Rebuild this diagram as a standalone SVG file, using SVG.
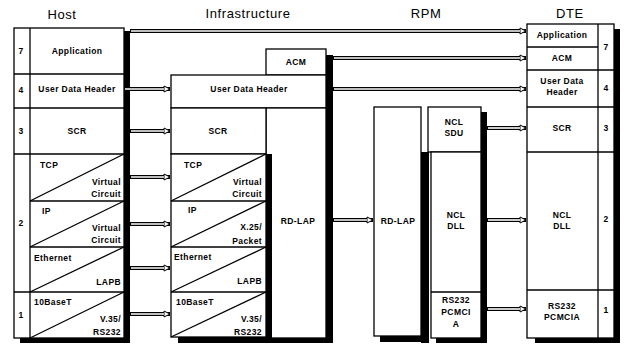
<svg xmlns="http://www.w3.org/2000/svg" width="626" height="345" viewBox="0 0 626 345">
<style>
.bx{fill:#fff;stroke:#000;stroke-width:1.3}
.ln{stroke:#000;stroke-width:1.3;fill:none}
.sh{fill:#000}
.t{font-family:"Liberation Sans",Arial,sans-serif;font-weight:bold;font-size:8.5px;letter-spacing:0.4px;fill:#000}
.m{text-anchor:middle}
.e{text-anchor:end}
.ti{font-family:"Liberation Sans",Arial,sans-serif;font-size:13px;letter-spacing:0.6px;text-anchor:middle;fill:#000}
.co line{stroke:#000;stroke-width:4;fill:none;marker-end:url(#ah)}
.ci line{stroke:#fff;stroke-width:1.6;fill:none}
</style>
<defs>
<marker id="ah" markerWidth="9" markerHeight="9" refX="7" refY="4" orient="auto" markerUnits="userSpaceOnUse">
<path d="M1,1 L7,4 L1,7 Z" fill="#fff" stroke="#000" stroke-width="1"/>
</marker>
</defs>
<rect width="626" height="345" fill="#fff"/>

<g id="titles">
<text class="ti" x="62" y="19">Host</text>
<text class="ti" x="248" y="18">Infrastructure</text>
<text class="ti" x="426" y="18">RPM</text>
<text class="ti" x="570" y="18">DTE</text>
</g>

<g id="host">
<rect class="sh" x="124" y="31" width="6" height="312"/>
<rect class="sh" x="20" y="337" width="110" height="6"/>
<rect class="bx" x="14" y="28" width="110" height="310"/>
<line class="ln" x1="30" y1="28" x2="30" y2="338"/>
<line class="ln" x1="14" y1="74" x2="124" y2="74"/>
<line class="ln" x1="14" y1="108" x2="124" y2="108"/>
<line class="ln" x1="14" y1="154" x2="124" y2="154"/>
<line class="ln" x1="30" y1="201" x2="124" y2="201"/>
<line class="ln" x1="30" y1="247" x2="124" y2="247"/>
<line class="ln" x1="14" y1="292" x2="124" y2="292"/>
<line class="ln" x1="30" y1="201" x2="124" y2="154"/>
<line class="ln" x1="30" y1="247" x2="124" y2="201"/>
<line class="ln" x1="30" y1="292" x2="124" y2="247"/>
<line class="ln" x1="30" y1="338" x2="124" y2="292"/>
<text class="t m" x="21" y="54">7</text>
<text class="t m" x="77" y="54">Application</text>
<text class="t m" x="21" y="93">4</text>
<text class="t m" x="77" y="92">User Data Header</text>
<text class="t m" x="21" y="134">3</text>
<text class="t m" x="77" y="134">SCR</text>
<text class="t" x="40" y="168">TCP</text>
<text class="t e" x="121" y="185">Virtual</text>
<text class="t e" x="121" y="197">Circuit</text>
<text class="t m" x="21" y="226">2</text>
<text class="t" x="42" y="214">IP</text>
<text class="t e" x="121" y="231">Virtual</text>
<text class="t e" x="121" y="243">Circuit</text>
<text class="t" x="34" y="261">Ethernet</text>
<text class="t e" x="121" y="285">LAPB</text>
<text class="t m" x="21" y="318">1</text>
<text class="t" x="34" y="305">10BaseT</text>
<text class="t e" x="121" y="322">V.35/</text>
<text class="t e" x="121" y="335">RS232</text>
</g>

<g id="infrastructure">
<rect class="sh" x="326" y="55" width="7" height="288"/>
<rect class="sh" x="272" y="338" width="61" height="5"/>
<rect class="bx" x="266" y="49" width="60" height="26"/>
<rect class="bx" x="171" y="75" width="155" height="33"/>
<rect class="bx" x="266" y="108" width="60" height="230"/>
<rect class="bx" x="171" y="108" width="95" height="46"/>
<rect class="sh" x="266" y="154" width="6" height="189"/>
<rect class="sh" x="178" y="337" width="94" height="6"/>
<rect class="bx" x="171" y="154" width="95" height="183"/>
<line class="ln" x1="171" y1="201" x2="266" y2="201"/>
<line class="ln" x1="171" y1="247" x2="266" y2="247"/>
<line class="ln" x1="171" y1="292" x2="266" y2="292"/>
<line class="ln" x1="171" y1="201" x2="266" y2="154"/>
<line class="ln" x1="171" y1="247" x2="266" y2="201"/>
<line class="ln" x1="171" y1="292" x2="266" y2="247"/>
<line class="ln" x1="171" y1="337" x2="266" y2="292"/>
<text class="t m" x="296" y="65">ACM</text>
<text class="t m" x="249" y="92">User Data Header</text>
<text class="t m" x="218" y="134">SCR</text>
<text class="t m" x="298" y="224">RD-LAP</text>
<text class="t" x="184" y="168">TCP</text>
<text class="t e" x="262" y="185">Virtual</text>
<text class="t e" x="262" y="197">Circuit</text>
<text class="t" x="188" y="213">IP</text>
<text class="t e" x="262" y="230">X.25/</text>
<text class="t e" x="262" y="244">Packet</text>
<text class="t" x="174" y="260">Ethernet</text>
<text class="t e" x="262" y="284">LAPB</text>
<text class="t" x="176" y="305">10BaseT</text>
<text class="t e" x="262" y="322">V.35/</text>
<text class="t e" x="262" y="335">RS232</text>
</g>

<g id="rpm">
<rect class="sh" x="380" y="336" width="49" height="6"/>
<rect class="bx" x="374" y="107" width="47" height="229"/>
<rect class="sh" x="421" y="152" width="8" height="191"/>
<rect class="sh" x="481" y="112" width="6" height="231"/>
<rect class="sh" x="436" y="338" width="51" height="5"/>
<rect class="bx" x="428" y="107" width="53" height="45"/>
<rect class="bx" x="431" y="152" width="50" height="186"/>
<line class="ln" x1="431" y1="292" x2="481" y2="292"/>
<text class="t m" x="398" y="224">RD-LAP</text>
<text class="t m" x="454" y="125">NCL</text>
<text class="t m" x="454" y="136">SDU</text>
<text class="t m" x="456" y="218">NCL</text>
<text class="t m" x="456" y="229">DLL</text>
<text class="t m" x="456" y="303">RS232</text>
<text class="t m" x="456" y="315">PCMCI</text>
<text class="t m" x="456" y="327">A</text>
</g>

<g id="dte">
<rect class="sh" x="614" y="29" width="6" height="314"/>
<rect class="sh" x="535" y="338" width="85" height="5"/>
<rect class="bx" x="527" y="24" width="87" height="314"/>
<line class="ln" x1="598" y1="24" x2="598" y2="338"/>
<line class="ln" x1="527" y1="47" x2="598" y2="47"/>
<line class="ln" x1="527" y1="70" x2="614" y2="70"/>
<line class="ln" x1="527" y1="107" x2="614" y2="107"/>
<line class="ln" x1="527" y1="152" x2="614" y2="152"/>
<line class="ln" x1="527" y1="290" x2="614" y2="290"/>
<text class="t m" x="562" y="38">Application</text>
<text class="t m" x="562" y="61">ACM</text>
<text class="t m" x="562" y="84">User Data</text>
<text class="t m" x="562" y="95">Header</text>
<text class="t m" x="562" y="131">SCR</text>
<text class="t m" x="562" y="218">NCL</text>
<text class="t m" x="562" y="229">DLL</text>
<text class="t m" x="562" y="309">RS232</text>
<text class="t m" x="562" y="320">PCMCIA</text>
<text class="t m" x="606" y="50">7</text>
<text class="t m" x="606" y="91">4</text>
<text class="t m" x="606" y="131">3</text>
<text class="t m" x="606" y="222">2</text>
<text class="t m" x="606" y="313">1</text>
</g>

<g id="connectors">
<g class="co">
<line x1="130" y1="31" x2="526" y2="31"/>
<line x1="333" y1="58" x2="526" y2="58"/>
<line x1="124" y1="89" x2="170" y2="89"/>
<line x1="333" y1="89" x2="526" y2="89"/>
<line x1="130" y1="131" x2="170" y2="131"/>
<line x1="130" y1="177" x2="170" y2="177"/>
<line x1="130" y1="224" x2="170" y2="224"/>
<line x1="130" y1="268" x2="170" y2="268"/>
<line x1="130" y1="314" x2="170" y2="314"/>
<line x1="333" y1="220" x2="373" y2="220"/>
<line x1="487" y1="128" x2="526" y2="128"/>
<line x1="487" y1="220" x2="526" y2="220"/>
<line x1="487" y1="309" x2="526" y2="309"/>
</g>
<g class="ci">
<line x1="131" y1="31" x2="520" y2="31"/>
<line x1="334" y1="58" x2="520" y2="58"/>
<line x1="125" y1="89" x2="164" y2="89"/>
<line x1="334" y1="89" x2="520" y2="89"/>
<line x1="131" y1="131" x2="164" y2="131"/>
<line x1="131" y1="177" x2="164" y2="177"/>
<line x1="131" y1="224" x2="164" y2="224"/>
<line x1="131" y1="268" x2="164" y2="268"/>
<line x1="131" y1="314" x2="164" y2="314"/>
<line x1="334" y1="220" x2="367" y2="220"/>
<line x1="488" y1="128" x2="520" y2="128"/>
<line x1="488" y1="220" x2="520" y2="220"/>
<line x1="488" y1="309" x2="520" y2="309"/>
</g>
</g>
</svg>
